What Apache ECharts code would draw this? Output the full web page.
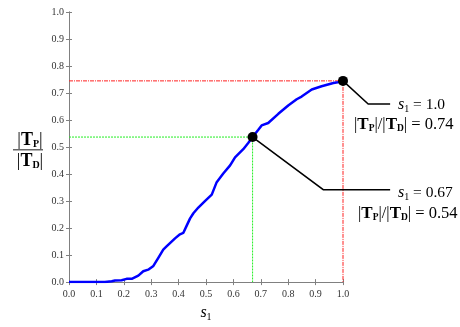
<!DOCTYPE html>
<html><head><meta charset="utf-8">
<script src="https://cdn.jsdelivr.net/npm/echarts@6/dist/echarts.min.js"></script>
<style>html,body{margin:0;padding:0;background:#fff}#c{width:460px;height:327px}</style>
</head><body><div id="c"></div>
<script>
var s1 = [0, 0.095, 0.131, 0.156, 0.168, 0.192, 0.21, 0.229, 0.253, 0.271, 0.289, 0.308, 0.326, 0.344, 0.356, 0.387, 0.405, 0.417, 0.43, 0.442, 0.454, 0.472, 0.496, 0.521, 0.539, 0.563, 0.588, 0.606, 0.636, 0.654, 0.67, 0.691, 0.703, 0.727, 0.764, 0.8, 0.831, 0.849, 0.886, 0.922, 0.965, 0.981, 1.0];
var ratio = [0, 0, 0, 0.003, 0.006, 0.007, 0.012, 0.012, 0.024, 0.04, 0.046, 0.06, 0.09, 0.12, 0.132, 0.162, 0.177, 0.182, 0.21, 0.236, 0.255, 0.276, 0.3, 0.324, 0.37, 0.402, 0.432, 0.462, 0.492, 0.515, 0.537, 0.564, 0.58, 0.589, 0.623, 0.654, 0.677, 0.687, 0.713, 0.725, 0.737, 0.74, 0.745];
var markS = [1.0, 0.67];
var markR = [0.745, 0.537];
var markValueText = ['1.0', '0.67'];
var markRatioText = ['0.74', '0.54'];
var leader1 = [[1.0, 0.745], [1.092, 0.659], [1.172, 0.659]];
var leader2 = [[0.67, 0.537], [0.928, 0.342], [1.172, 0.342]];
var xTicks = [0, 1, 0.1];
var yTicks = [0, 1, 0.1];

var serif = '"Liberation Serif","DejaVu Serif",serif';
var chart = echarts.init(document.getElementById('c'));
var curve = s1.map(function (v, i) { return [v, ratio[i]]; });
var axisLine = { lineStyle: { color: '#808080', width: 1 } };
var tick = { inside: true, length: 3, lineStyle: { color: '#808080' } };
var subRich = {
  i: { fontFamily: serif, fontStyle: 'italic', fontSize: 16, lineHeight: 17, color: '#000' },
  n: { fontFamily: serif, fontSize: 15.5, lineHeight: 17, color: '#000' },
  sub: { fontFamily: serif, fontSize: 10, lineHeight: 10, padding: [8, 0, 0, 0], color: '#000' }
};
var ratioRich = {
  n: { fontFamily: serif, fontSize: 16.5, lineHeight: 17, color: '#000' },
  b: { fontFamily: serif, fontWeight: 'bold', fontSize: 17, lineHeight: 17, color: '#000' },
  bsub: { fontFamily: serif, fontWeight: 'bold', fontSize: 9.5, lineHeight: 9, padding: [9, 0, 0, 0], color: '#000' }
};
var fracRich = {
  n: { fontFamily: serif, fontSize: 18, lineHeight: 19, color: '#000' },
  b: { fontFamily: serif, fontWeight: 'bold', fontSize: 18, lineHeight: 19, color: '#000' },
  bsub: { fontFamily: serif, fontWeight: 'bold', fontSize: 10, lineHeight: 10, padding: [9, 0, 0, 0], color: '#000' }
};
function ratioLabel(v) { return '{n||}{b|T}{bsub|P}{n||/|}{b|T}{bsub|D}{n|| = ' + v + '}'; }
function sLabel(v) { return '{i|s}{sub|1}{n| = ' + v + '}'; }

chart.setOption({
  animation: false,
  grid: { left: 69, right: 117, top: 12, bottom: 37 },
  xAxis: [{
    type: 'value', min: xTicks[0], max: xTicks[1], interval: xTicks[2], position: 'bottom',
    axisLine: axisLine, axisTick: tick, splitLine: { show: false },
    axisLabel: { fontFamily: serif, fontSize: 10, color: '#333', margin: 7, formatter: function (v) { return v.toFixed(1); } },
    name: '{i|s}{sub|1}', nameLocation: 'middle', nameGap: 21,
    nameTextStyle: { rich: subRich }
  }, {
    type: 'value', min: xTicks[0], max: xTicks[1], interval: xTicks[2], position: 'top',
    axisLine: axisLine, axisTick: tick, axisLabel: { show: false }, splitLine: { show: false }
  }],
  yAxis: [{
    type: 'value', min: yTicks[0], max: yTicks[1], interval: yTicks[2], position: 'left',
    axisLine: axisLine, axisTick: tick, splitLine: { show: false },
    axisLabel: { fontFamily: serif, fontSize: 10, color: '#333', margin: 5, formatter: function (v) { return v.toFixed(1); } }
  }, {
    type: 'value', min: yTicks[0], max: yTicks[1], interval: yTicks[2], position: 'right',
    axisLine: axisLine, axisTick: tick, axisLabel: { show: false }, splitLine: { show: false }
  }],
  series: [
    { type: 'line', data: [[xTicks[0], markR[0]], [markS[0], markR[0]], [markS[0], yTicks[0]]], symbol: 'none', silent: true,
      lineStyle: { color: '#ff2020', width: 1, type: [4, 1, 1, 1] } },
    { type: 'line', data: [[xTicks[0], markR[1]], [markS[1], markR[1]], [markS[1], yTicks[0]]], symbol: 'none', silent: true,
      lineStyle: { color: '#22ee22', width: 1, type: [2, 1] } },
    { type: 'line', data: curve, symbol: 'none', lineStyle: { color: '#0000ff', width: 2.5 } },
    { type: 'scatter', data: markS.map(function (v, i) { return [v, markR[i]]; }), symbolSize: 10, clip: false, z: 10,
      itemStyle: { color: '#000', opacity: 1 } }
  ]
});

function toPx(p) { return chart.convertToPixel({ xAxisIndex: 0, yAxisIndex: 0 }, p); }
var g = [];
[leader1, leader2].forEach(function (ld) {
  g.push({ type: 'polyline', z: 5, shape: { points: ld.map(toPx) }, style: { stroke: '#000', lineWidth: 1.5, fill: null } });
});
g.push(
  { type: 'text', left: 398, top: 96, style: { text: sLabel(markValueText[0]), rich: subRich } },
  { type: 'text', left: 354, top: 115, style: { text: ratioLabel(markRatioText[0]), rich: ratioRich } },
  { type: 'text', left: 398, top: 184, style: { text: sLabel(markValueText[1]), rich: subRich } },
  { type: 'text', left: 358, top: 204, style: { text: ratioLabel(markRatioText[1]), rich: ratioRich } },
  { type: 'text', x: 30, y: 140, style: { text: '{n||}{b|T}{bsub|P}{n||}', rich: fracRich, align: 'center', verticalAlign: 'middle' } },
  { type: 'rect', x: 13, y: 149, shape: { width: 30, height: 1.5 }, style: { fill: '#666' } },
  { type: 'text', x: 30, y: 161, style: { text: '{n||}{b|T}{bsub|D}{n||}', rich: fracRich, align: 'center', verticalAlign: 'middle' } }
);
chart.setOption({ graphic: g });
</script></body></html>
